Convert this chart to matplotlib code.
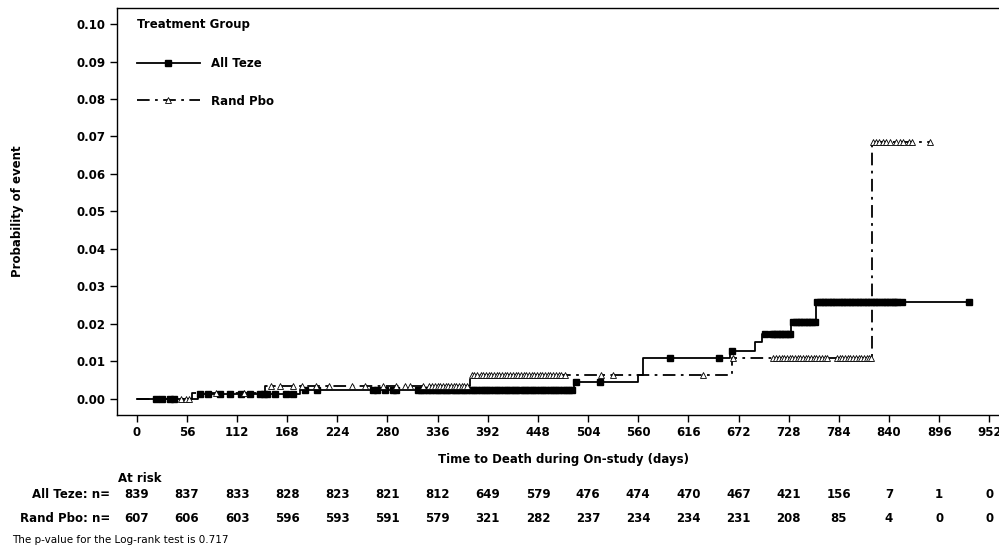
import numpy as np
import matplotlib
matplotlib.use("Agg")
import matplotlib.pyplot as plt
from matplotlib.lines import Line2D

# ---- data ----
xticks = [0, 56, 112, 168, 224, 280, 336, 392, 448, 504, 560, 616, 672, 728, 784, 840, 896, 952]
yticks = [0.00, 0.01, 0.02, 0.03, 0.04, 0.05, 0.06, 0.07, 0.08, 0.09, 0.10]

teze_t = [0, 68, 182, 488, 560, 565, 662, 690, 698, 731, 759, 929]
teze_p = [0, 0.0012, 0.0024, 0.0043, 0.0064, 0.0108, 0.0128, 0.0152, 0.0173, 0.0204, 0.0259, 0.0259]

pbo_t = [0, 62, 143, 372, 665, 821, 886]
pbo_p = [0, 0.0016, 0.0033, 0.0063, 0.0107, 0.0685, 0.0685]

teze_cens = [22, 28, 37, 42, 71, 80, 93, 104, 116, 126, 138, 142, 145, 154, 167, 175,
             188, 201, 264, 268, 277, 286, 290,
             314, 318, 321, 325, 329, 333, 336, 340, 344, 347, 351, 355, 358, 362, 366, 369,
             373, 377, 380, 384, 388, 391, 395, 399, 402, 406, 410, 413, 417, 421, 424, 428,
             432, 435, 439, 443, 446, 450, 454, 457, 461, 465, 468, 472, 476, 479, 483, 486,
             490, 517, 596, 650, 665, 702,
             709, 712, 715, 718, 721, 724, 727, 729,
             733, 736, 739, 742, 745, 748, 751, 754, 757,
             760, 763, 766, 769, 772, 775, 778, 781, 784, 787, 790, 793, 796, 799, 802, 805,
             808, 811, 814, 817, 820, 823, 826, 829, 832, 835, 838, 841, 844, 847, 849, 854, 929]

pbo_cens = [50, 55, 58, 88, 120,
            150, 160, 175, 185, 200, 215, 240, 255, 275, 290, 300, 305, 320, 326,
            330, 333, 336, 339, 342, 345, 348, 351, 354, 357, 360, 363, 366, 369,
            374, 377, 380, 384, 387, 390, 393, 396, 399, 402, 405, 408, 411, 414, 417, 420,
            423, 426, 429, 432, 435, 438, 441, 444, 447, 450, 453, 456, 459, 462, 465, 468,
            471, 474, 478, 518, 532, 632,
            666, 711, 714, 717, 720, 723, 726, 729, 732, 735, 738, 741, 744, 747, 750, 753,
            756, 759, 762, 765, 768, 771, 782, 785, 788, 791, 794, 797, 800, 803, 806, 809,
            812, 815, 818, 820,
            822, 825, 829, 833, 837, 841, 848, 852, 856, 862, 866, 886]

risk_teze = [839, 837, 833, 828, 823, 821, 812, 649, 579, 476, 474, 470, 467, 421, 156, 7, 1, 0]
risk_pbo = [607, 606, 603, 596, 593, 591, 579, 321, 282, 237, 234, 234, 231, 208, 85, 4, 0, 0]


def level_at(times, probs, pts):
    idx = np.searchsorted(times, pts, side="right") - 1
    return np.asarray(probs)[idx]


W, H = 999, 548
fig = plt.figure(figsize=(W / 100, H / 100), dpi=100)
left, right, bottom, top = 117, 1009, 415, 8
ax = fig.add_axes([left / W, 1 - bottom / H, (right - left) / W, (bottom - top) / H])

FS = 8.5
FW = "bold"
DASH = (0, (7, 3, 1.5, 3))

ax.step(teze_t, teze_p, where="post", color="black", lw=1.3)
ax.step(pbo_t, pbo_p, where="post", color="black", lw=1.3, linestyle=DASH)

ax.plot(teze_cens, level_at(teze_t, teze_p, teze_cens), linestyle="none",
        marker="s", ms=5, color="black")
ax.plot(pbo_cens, level_at(pbo_t, pbo_p, pbo_cens), linestyle="none",
        marker="^", ms=4, mfc="white", mec="black", mew=0.6)

ax.set_xlim(-22, 974)
ax.set_ylim(-0.0044, 0.1043)
ax.set_xticks(xticks)
ax.set_xticklabels([str(v) for v in xticks], fontsize=FS, fontweight=FW)
ax.set_yticks(yticks)
ax.set_yticklabels([f"{v:.2f}" for v in yticks], fontsize=FS, fontweight=FW)
ax.tick_params(direction="out", length=5, width=1, pad=3)
ax.spines["right"].set_visible(False)
for s in ax.spines.values():
    s.set_linewidth(1)

fig.text(563 / W, 1 - 460 / H, "Time to Death during On-study (days)", ha="center",
         va="center", fontsize=FS, fontweight=FW)
fig.text(18 / W, 1 - 211 / H, "Probability of event", rotation=90, ha="center",
         va="center", fontsize=FS, fontweight=FW)

handles = [Line2D([0], [0], color="black", lw=1.3, marker="s", ms=5),
           Line2D([0], [0], color="black", lw=1.3, linestyle=DASH,
                  marker="^", ms=4, mfc="white", mec="black", mew=0.6)]
leg = ax.legend(handles, ["All Teze", "Rand Pbo"], title="Treatment Group",
                loc="upper left", bbox_to_anchor=(137 / W, 1 - 18 / H),
                bbox_transform=fig.transFigure, frameon=False, numpoints=1,
                handlelength=5.3, handletextpad=1.0, labelspacing=2.05,
                borderpad=0, borderaxespad=0,
                prop={"size": FS, "weight": FW},
                title_fontproperties={"size": FS, "weight": FW})
leg._legend_box.align = "left"
leg._legend_box.sep = 19

# at-risk table
fig.text(118 / W, 1 - 479 / H, "At risk", ha="left", va="center", fontsize=FS, fontweight=FW)
fig.text(110 / W, 1 - 495 / H, "All Teze: n=", ha="right", va="center", fontsize=FS, fontweight=FW)
fig.text(110 / W, 1 - 519 / H, "Rand Pbo: n=", ha="right", va="center", fontsize=FS, fontweight=FW)
trans = matplotlib.transforms.blended_transform_factory(ax.transData, fig.transFigure)
for xv, a, b in zip(xticks, risk_teze, risk_pbo):
    fig.text(xv, 1 - 495 / H, str(a), transform=trans, ha="center", va="center",
             fontsize=FS, fontweight=FW)
    fig.text(xv, 1 - 519 / H, str(b), transform=trans, ha="center", va="center",
             fontsize=FS, fontweight=FW)
fig.text(12 / W, 1 - 540 / H, "The p-value for the Log-rank test is 0.717", ha="left",
         va="center", fontsize=7.5)

fig.savefig("out.png", dpi=100)
